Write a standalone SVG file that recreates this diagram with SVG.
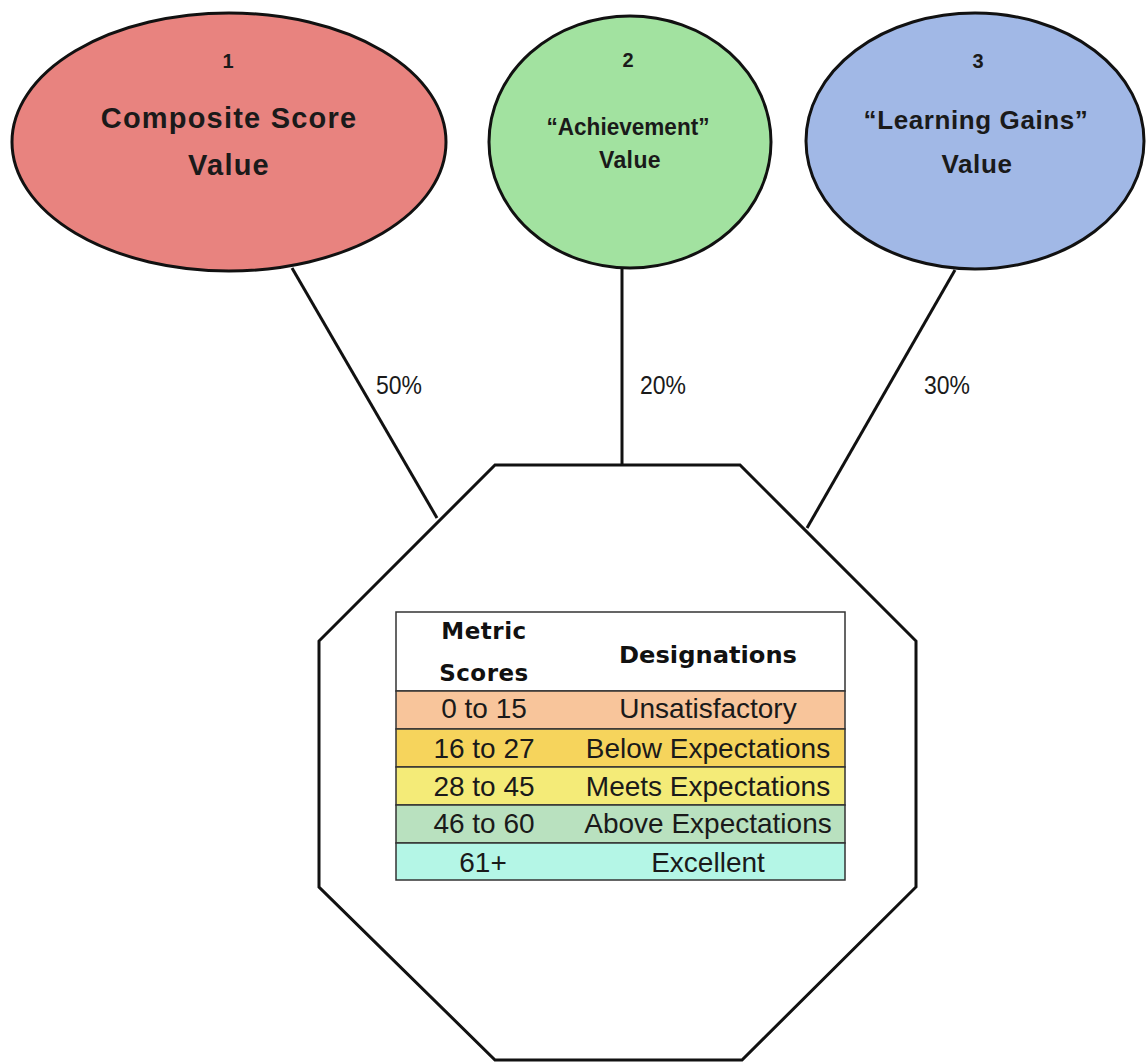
<svg xmlns="http://www.w3.org/2000/svg" width="1146" height="1062" viewBox="0 0 1146 1062">
<style>
.node{stroke:#111;stroke-width:3}
.conn{stroke:#111;stroke-width:3;fill:none}
.num{font-family:"Liberation Sans",Arial,sans-serif;font-weight:bold;font-size:20px;fill:#1a1a1a;text-anchor:middle}
.title{font-family:"Liberation Sans",Arial,sans-serif;font-weight:bold;fill:#1a1a1a;text-anchor:middle}
.pct{font-family:"Liberation Sans",Arial,sans-serif;font-size:25px;fill:#1a1a1a}
.hdr{font-family:"DejaVu Sans",Verdana,sans-serif;font-weight:bold;font-size:23px;fill:#111;text-anchor:middle}
.cell{font-family:"Liberation Sans",Arial,sans-serif;font-size:28px;fill:#1a1a1a;text-anchor:middle}
.row{stroke:#333;stroke-width:1.5}
</style>
<rect width="1146" height="1062" fill="#ffffff"/>
<g id="connectors">
<line class="conn" x1="292" y1="268" x2="437" y2="518"/>
<line class="conn" x1="622" y1="264" x2="622" y2="465"/>
<line class="conn" x1="955" y1="270" x2="807" y2="528"/>
<text class="pct" x="376" y="394" textLength="46" lengthAdjust="spacingAndGlyphs">50%</text>
<text class="pct" x="640" y="394" textLength="46" lengthAdjust="spacingAndGlyphs">20%</text>
<text class="pct" x="924" y="394" textLength="46" lengthAdjust="spacingAndGlyphs">30%</text>
</g>
<g id="node-composite">
<ellipse class="node" cx="229" cy="142" rx="217" ry="129" fill="#E8837F"/>
<text class="num" x="228" y="68">1</text>
<text class="title" x="229" y="128" font-size="29" letter-spacing="1.2">Composite Score</text>
<text class="title" x="229" y="175" font-size="29" letter-spacing="1.2">Value</text>
</g>
<g id="node-achievement">
<ellipse class="node" cx="630" cy="142" rx="141" ry="126" fill="#A2E2A0"/>
<text class="num" x="628" y="67">2</text>
<text class="title" x="628" y="135" font-size="23" textLength="163" lengthAdjust="spacingAndGlyphs">“Achievement”</text>
<text class="title" x="630" y="168" font-size="23" letter-spacing="0.4">Value</text>
</g>
<g id="node-gains">
<ellipse class="node" cx="975" cy="141" rx="169" ry="128" fill="#A1B8E6"/>
<text class="num" x="978" y="68">3</text>
<text class="title" x="976" y="129" font-size="26" letter-spacing="0.6">“Learning Gains”</text>
<text class="title" x="977" y="173" font-size="26" letter-spacing="0.6">Value</text>
</g>
<g id="node-designations">
<polygon class="node" fill="#ffffff" points="495,465 740,465 916,641 916,887 742,1060 495,1060 319,887 319,641"/>
<rect x="396" y="612" width="449" height="79" fill="#ffffff" class="row"/>
<rect x="396" y="691" width="449" height="38" fill="#F8C59B" class="row"/>
<rect x="396" y="729" width="449" height="38" fill="#F6D45C" class="row"/>
<rect x="396" y="767" width="449" height="38" fill="#F4EB78" class="row"/>
<rect x="396" y="805" width="449" height="38" fill="#B9E1BF" class="row"/>
<rect x="396" y="843" width="449" height="37" fill="#B4F6E6" class="row"/>
<text class="hdr" x="484" y="639" letter-spacing="0.5">Metric</text>
<text class="hdr" x="484" y="681" letter-spacing="0.5">Scores</text>
<text class="hdr" x="708" y="663" textLength="178" lengthAdjust="spacingAndGlyphs">Designations</text>
<text class="cell" x="484" y="718">0 to 15</text>
<text class="cell" x="708" y="718">Unsatisfactory</text>
<text class="cell" x="484" y="758">16 to 27</text>
<text class="cell" x="708" y="758">Below Expectations</text>
<text class="cell" x="484" y="796">28 to 45</text>
<text class="cell" x="708" y="796">Meets Expectations</text>
<text class="cell" x="484" y="833">46 to 60</text>
<text class="cell" x="708" y="833">Above Expectations</text>
<text class="cell" x="483" y="872">61+</text>
<text class="cell" x="708" y="872">Excellent</text>
</g>
</svg>
